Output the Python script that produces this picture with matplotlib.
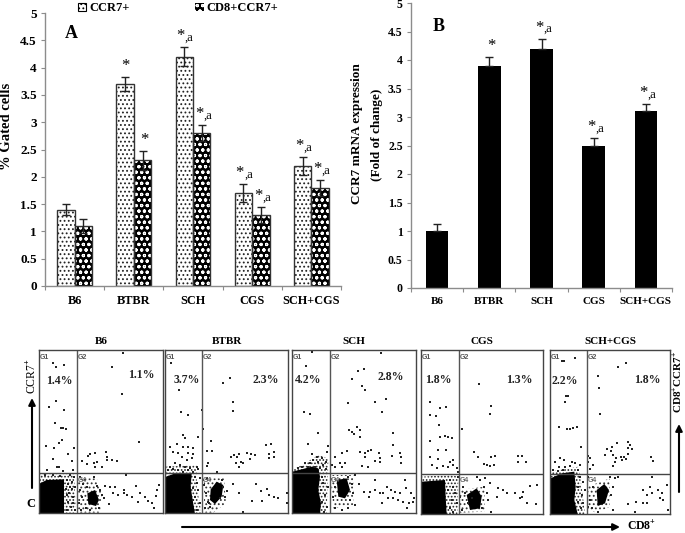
import matplotlib
matplotlib.use('Agg')
import matplotlib.pyplot as plt
import numpy as np
from matplotlib.patches import Patch, Polygon

plt.rcParams['font.family'] = ['Liberation Serif', 'DejaVu Serif']
plt.rcParams['font.weight'] = 'bold'
plt.rcParams['mathtext.fontset'] = 'custom'
plt.rcParams['mathtext.rm'] = 'Liberation Serif:bold'
plt.rcParams['mathtext.default'] = 'rm'
plt.rcParams['hatch.linewidth'] = 0.8

W, H = 685, 533
GREY = '#8c8c8c'

# bar data
groups = ['B6', 'BTBR', 'SCH', 'CGS', 'SCH+CGS']
ccr7 = [1.4, 3.7, 4.2, 1.7, 2.2]
ccr7_err = [0.1, 0.13, 0.17, 0.17, 0.17]
cd8_ccr7 = [1.1, 2.3, 2.8, 1.3, 1.8]
cd8_ccr7_err = [0.13, 0.17, 0.15, 0.15, 0.15]
ccr7_marks = ['', '*', '*,a', '*,a', '*,a']
cd8_marks = ['', '*', '*,a', '*,a', '*,a']

mrna = [1.0, 3.9, 4.2, 2.5, 3.1]
mrna_err = [0.13, 0.15, 0.17, 0.13, 0.12]
mrna_marks = ['', '*', '*,a', '*,a', '*,a']

yticks = [0, 0.5, 1, 1.5, 2, 2.5, 3, 3.5, 4, 4.5, 5]
ylabels = ['0', '0.5', '1', '1.5', '2', '2.5', '3', '3.5', '4', '4.5', '5']

# flow plots: events, in picture units of each plot
b6_pts = [(370,70),(335,112),(160,100),(168,112),(193,104),(366,192),(168,214),(148,230),(193,240),(166,279),(182,293),(190,295),(197,297),(185,330),(176,338),(139,347),(161,355),(418,335),(222,355),(205,372),(158,388),(215,392),(270,372),(285,370),(265,378),(318,367),(322,382),(245,392),(262,402),(282,400),(290,397),(285,410),(307,410),(320,390),(335,390),(352,392),(140,420),(170,410),(178,412),(190,422),(218,420),
          (200,450),(205,462),(198,476),(210,470),(215,455),(222,440),(200,495),(208,488),(218,500),(205,515),(212,530),(220,520),(225,540),(200,540),(215,478),(226,470),(240,440),(250,462),(240,480),(245,500),(238,520),(242,540),(255,450),(262,470),(258,535),(270,540),(282,440),(290,468),(300,480),(305,495),(312,505),(296,535),(315,468),(330,470),(345,472),(338,490),(355,495),(372,490),(378,435),(408,468),(372,480),(382,495),(395,502),(420,490),(435,500),(445,512),(455,518),(472,480),(478,465),(468,498),(328,522),(415,515),(462,535),(135,435),(160,435),(180,438),(210,435)]
btbr_pts = [(514,98),(690,143),(670,158),(536,180),(699,215),(699,244),(543,246),(564,254),(605,240),(610,296),(632,332),(548,316),(555,325),(595,320),(532,342),(548,350),(565,352),(580,355),(510,352),(520,365),(535,368),(565,368),(580,372),(620,363),(635,363),(798,346),(812,342),(822,365),(808,372),(822,382),(808,385),(742,368),(752,372),(766,374),(702,375),(692,380),(716,372),(710,382),(750,388),(722,395),(708,398),(716,410),(728,400),(624,400),(620,408),(590,410),(545,380),(560,390),(575,385),(510,410),(525,400),(540,405),(555,410),(570,415),(505,420),(520,418),(535,420),(550,425),(565,420),(580,425),(595,418),
            (585,440),(590,460),(580,475),(595,480),(585,500),(600,520),(592,540),(578,510),(600,445),(612,465),(618,490),(615,535),(625,515),(630,530),(650,425),(665,450),(670,470),(660,505),(675,500),(680,482),(700,462),(718,488),(768,462),(782,484),(802,478),(808,495),(822,500),(835,505),(860,488),(755,512),(785,512),(860,518),(730,545),(610,450),(620,445),(628,520)]
sch_pts = [(82,66),(62,108),(288,70),(220,122),(238,118),(202,148),(232,168),(240,180),(190,220),(270,215),(304,208),(290,245),(58,246),(74,252),(100,308),(192,300),(200,305),(215,292),(225,300),(208,312),(225,322),(325,310),(325,346),(68,342),(130,348),(126,365),(240,368),(250,362),(258,360),(226,365),(282,368),(345,370),(320,378),(348,380),(186,362),(170,368),(150,380),(80,372),(95,380),(110,385),(124,395),(100,395),(85,390),(60,400),(75,398),(115,405),(40,415),(50,412),(70,410),(90,410),(105,415),(122,418),(140,405),(165,400),(180,398),(240,380),(285,385),(270,392),(285,395),(348,398),(230,408),(250,410),(150,412),(172,410),
           (112,440),(115,460),(108,480),(120,495),(110,515),(125,530),(118,545),(128,470),(190,440),(200,462),(210,435),(205,490),(195,510),(222,462),(238,485),(255,485),(270,480),(285,488),(295,490),(305,470),(318,480),(330,485),(345,490),(360,450),(362,475),(378,490),(385,515),(270,450),(290,520),(310,505),(325,505),(340,510),(355,515),(372,518),(388,505),(252,500),(150,470),(145,500),(210,525),(190,535),(170,540),(150,535),(365,535)]
cgs_pts = [(435,215),(465,234),(483,230),(435,255),(452,258),(461,286),(466,322),(481,318),(490,322),(502,324),(434,332),(482,360),(458,360),(435,382),(460,388),(505,390),(495,395),(440,405),(455,415),(475,408),(490,412),(505,405),(515,415),(518,425),(581,161),(618,228),(615,252),(531,298),(568,365),(580,380),(617,380),(630,378),(700,377),(710,378),(596,403),(605,405),(615,408),(627,405),(698,395),(724,395),
           (495,450),(505,470),(490,480),(510,490),(500,510),(515,520),(495,535),(505,545),(520,440),(535,470),(525,500),(530,540),(540,490),(548,520),(560,505),(575,440),(585,450),(598,470),(605,490),(590,535),(610,510),(618,545),(600,445),(655,480),(665,490),(635,500),(690,490),(715,485),(712,500),(705,505),(735,468),(755,465),(725,518),(752,522),(640,475),(615,460)]
combo_pts = [(830,92),(838,92),(870,85),(1000,112),(1022,98),(940,137),(942,175),(842,197),(850,197),(840,215),(945,252),(822,290),(845,296),(855,296),(865,293),(875,290),(888,350),(1030,335),(1035,345),(1028,355),(1040,358),(995,340),(980,350),(965,358),(978,362),(960,375),(1030,372),(1018,380),(1008,380),(985,375),(1024,388),(1012,390),(993,385),(990,395),(985,408),(1098,380),(1105,392),(910,378),(915,385),(908,395),(925,405),(915,418),(825,385),(838,390),(810,395),(860,395),(822,412),(840,410),(855,408),(870,400),(885,405),(805,420),(820,422),(835,420),(878,420),
             (885,440),(880,470),(890,495),(878,515),(888,535),(895,455),(900,480),(895,520),(910,440),(915,510),(920,535),(925,470),(975,440),(990,445),(1000,440),(985,470),(978,495),(1075,480),(1095,470),(1100,490),(1085,495),(1120,480),(1130,490),(1125,505),(1135,510),(1052,515),(1030,522),(1075,518),(1085,520),(1050,545),(1100,440),(1145,465),(1150,540),(985,540),(940,545),(910,530)]

flow_titles = ['B6', 'BTBR', 'SCH', 'CGS', 'SCH+CGS']
flow_pts = [b6_pts, btbr_pts, sch_pts, cgs_pts, combo_pts]
flow_g1 = ['1.4%', '3.7%', '4.2%', '1.8%', '2.2%']
flow_g2 = ['1.1%', '2.3%', '2.8%', '1.3%', '1.8%']
# x0, x1, y0, y1, vertical gate, horizontal gate
flow_gates = [(118,488,60,550,231,429), (496,863,60,550,607,430), (20,393,60,550,134,429),
              (408,775,60,552,521,431), (795,1155,60,552,905,431)]
# crop offset of the picture units, and where the percents sit
flow_left = [0, 0, 285, 285, 285]
g1_xy = [(177,152), (560,150), (70,150), (460,150), (840,153)]
g2_xy = [(425,136), (798,150), (316,142), (703,150), (1088,150)]
# dense cell populations as outlines, solid core and dotted fringe
main_blobs = [
    [(120,550),(120,460),(140,450),(192,448),(192,550)],
    [(498,552),(498,440),(520,432),(575,432),(572,470),(578,510),(585,552)],
    [(22,552),(22,425),(50,418),(80,410),(100,415),(105,440),(100,480),(108,520),(105,552)],
    [(410,552),(410,455),(480,450),(482,500),(485,552)],
    [(797,552),(797,445),(830,430),(868,425),(872,470),(868,510),(878,552)]]
main_fringe = [
    [(120,432),(222,432),(228,550),(120,550)],
    [(498,410),(590,405),(590,470),(605,552),(498,552)],
    [(22,420),(60,400),(100,375),(130,385),(128,470),(125,552),(22,552)],
    [(410,440),(495,435),(520,440),(518,552),(410,552)],
    [(797,425),(880,410),(890,470),(900,552),(797,552)]]
g4_blobs = [
    [(262,490),(285,480),(297,510),(288,528),(265,522)],
    [(632,478),(650,455),(670,465),(665,500),(645,522),(630,510)],
    [(155,450),(185,445),(195,480),(180,505),(160,500)],
    [(545,495),(575,475),(590,500),(585,535),(555,540)],
    [(935,480),(958,462),(972,480),(960,520),(938,528)]]
g4_fringe = [
    [(233,445),(290,445),(305,490),(300,548),(233,548)],
    [(612,445),(672,445),(678,520),(640,548),(612,548)],
    [(136,435),(205,435),(205,525),(145,535)],
    [(525,480),(600,470),(600,545),(525,548)],
    [(908,470),(975,445),(975,530),(935,548),(908,540)]]

fig = plt.figure(figsize=(W / 100, H / 100), dpi=100)


def px_axes(x0, y0, x1, y1):
    return fig.add_axes([x0 / W, 1 - y1 / H, (x1 - x0) / W, (y1 - y0) / H])


def style_bars(ax, tick_size, name_size, name_y):
    ax.set_xlim(-0.5, 4.5)
    ax.set_ylim(0, 5)
    ax.spines[['top', 'right']].set_visible(False)
    ax.spines[['left', 'bottom']].set_color(GREY)
    ax.spines[['left', 'bottom']].set_linewidth(1.0)
    ax.set_yticks(yticks, ylabels, fontsize=tick_size)
    ax.set_xticks(np.arange(-0.5, 5), minor=False)
    ax.set_xticklabels([])
    ax.tick_params(axis='both', color=GREY, length=3, pad=3)
    for i, g in enumerate(groups):
        ax.text(i, name_y, g, ha='center', va='center', fontsize=name_size)


def mark(ax, x, y, s, size=12):
    # star sits high in the glyph, the ",a" is a smaller text next to it
    if s == '':
        return
    if s == '*':
        ax.text(x, y, '*', ha='center', va='center', fontsize=size, fontweight='normal')
    else:
        ax.text(x, y, '*', ha='right', va='center', fontsize=size, fontweight='normal')
        ax.text(x, y - 0.03, ',a', ha='left', va='center', fontsize=9, fontweight='normal')


# panel A
axA = px_axes(45, 13, 341, 286)
x = np.arange(5)
w = 0.295
axA.bar(x - w / 2, ccr7, w, color='white', edgecolor='#222222', hatch='....', linewidth=0)
axA.bar(x + w / 2, cd8_ccr7, w, color='black', edgecolor='white', hatch='ooo', linewidth=0)
axA.bar(x - w / 2, ccr7, w, fill=False, edgecolor='#333333', linewidth=1)
axA.bar(x + w / 2, cd8_ccr7, w, fill=False, edgecolor='#333333', linewidth=1)
axA.errorbar(x - w / 2, ccr7, yerr=ccr7_err, fmt='none', ecolor='#222222', elinewidth=1, capsize=3)
axA.errorbar(x + w / 2, cd8_ccr7, yerr=cd8_ccr7_err, fmt='none', ecolor='#222222', elinewidth=1, capsize=3)
style_bars(axA, 9.5, 8.8, -0.27)
for i in range(5):
    mark(axA, x[i] - w / 2 + 0.01, ccr7[i] + ccr7_err[i] + 0.2, ccr7_marks[i])
    mark(axA, x[i] + w / 2 + 0.03, cd8_ccr7[i] + cd8_ccr7_err[i] + 0.2, cd8_marks[i])
axA.text(-0.06, 4.63, 'A', fontsize=13, ha='center', va='center')
handles = [Patch(facecolor='white', edgecolor='black', hatch='....', linewidth=0.8),
           Patch(facecolor='black', edgecolor='white', hatch='ooo', linewidth=0)]
axA.legend(handles, ['CCR7+', 'CD8+CCR7+'], ncol=2, frameon=False, fontsize=9,
           loc='lower left', bbox_to_anchor=(0.11, 0.995), handlelength=0.7, handleheight=0.7,
           handletextpad=0.25, columnspacing=5.2, borderpad=0, borderaxespad=0)

# panel B
axB = px_axes(411, 3, 672, 288)
axB.bar(x, mrna, 0.43, color='black')
axB.errorbar(x, mrna, yerr=[[0] * 5, mrna_err], fmt='none', ecolor='#222222', elinewidth=1, capsize=3)
style_bars(axB, 8.5, 8, -0.23)
for i in range(5):
    mark(axB, x[i] + 0.04, mrna[i] + mrna_err[i] + 0.2, mrna_marks[i])
axB.text(0.03, 4.58, 'B', fontsize=13, ha='center', va='center')

# flow plots
for i in range(5):
    x0, x1, y0, y1, vx, hy = flow_gates[i]
    off = flow_left[i]
    ax = px_axes(off + x0 / 3, 330 + y0 / 3, off + x1 / 3, 330 + y1 / 3)
    ax.set_xlim(x0, x1)
    ax.set_ylim(y1, y0)
    ax.set_xticks([])
    ax.set_yticks([])
    for s in ax.spines.values():
        s.set_color('#444444')
        s.set_linewidth(1.0)
    ax.add_patch(Polygon(main_fringe[i], fill=False, edgecolor='#222222', hatch='.....', lw=0))
    ax.add_patch(Polygon(g4_fringe[i], fill=False, edgecolor='#333333', hatch='....', lw=0))
    ax.add_patch(Polygon(main_blobs[i], color='black', lw=0))
    ax.add_patch(Polygon(g4_blobs[i], color='black', lw=0))
    px = [p[0] for p in flow_pts[i]]
    py = [p[1] for p in flow_pts[i]]
    ax.scatter(px, py, s=1.0, color='#222222', marker='s', linewidths=0)
    ax.axvline(vx, color='#555555', lw=1)
    ax.axhline(hy, color='#444444', lw=1)
    ax.text(x0 + 2, y0 + 23, 'G1', fontsize=5, color='#555555', va='center', family='Liberation Sans')
    ax.text(vx + 2, y0 + 23, 'G2', fontsize=5, color='#555555', va='center', family='Liberation Sans')
    ax.text(vx + 2, hy + 22, 'G4', fontsize=5, color='#666666', va='center', family='Liberation Sans')
    ax.text(*g1_xy[i], flow_g1[i], fontsize=8.5, ha='center', va='center', color='#222222')
    ax.text(*g2_xy[i], flow_g2[i], fontsize=8.5, ha='center', va='center', color='#222222')
    ax.set_title(flow_titles[i], fontsize=8, pad=4, fontweight='bold')

# overlay in pixels for the arrows and free labels
ov = fig.add_axes([0, 0, 1, 1], zorder=10)
ov.set_xlim(0, W)
ov.set_ylim(H, 0)
ov.axis('off')
ov.patch.set_alpha(0)
ov.text(7, 126, '% Gated cells', rotation=90, fontsize=10.5, ha='center', va='center')
ov.text(357, 134, 'CCR7 mRNA expression', rotation=90, fontsize=9.5, ha='center', va='center')
ov.text(377, 135, '(Fold of change)', rotation=90, fontsize=9.5, ha='center', va='center')
ov.text(32, 376, 'CCR7$^{+}$', rotation=90, fontsize=8.5, ha='center', va='center', fontweight='normal')
ov.text(31, 504, 'C', fontsize=9, ha='center', va='center')
ov.text(678.5, 382, 'CD8$^{+}$CCR7$^{+}$', rotation=90, fontsize=8, ha='center', va='center')
ov.text(627, 526, 'CD8$^{+}$', fontsize=8.5, ha='left', va='center')
arrow = dict(arrowstyle='-|>', color='black', lw=1.5, mutation_scale=10, shrinkA=0, shrinkB=0)
ov.annotate('', xy=(32, 398), xytext=(32, 488), arrowprops=arrow)
ov.annotate('', xy=(679, 424), xytext=(679, 492), arrowprops=arrow)
ov.annotate('', xy=(620, 527), xytext=(182, 527), arrowprops=arrow)

fig.savefig('out.png', dpi=100)
